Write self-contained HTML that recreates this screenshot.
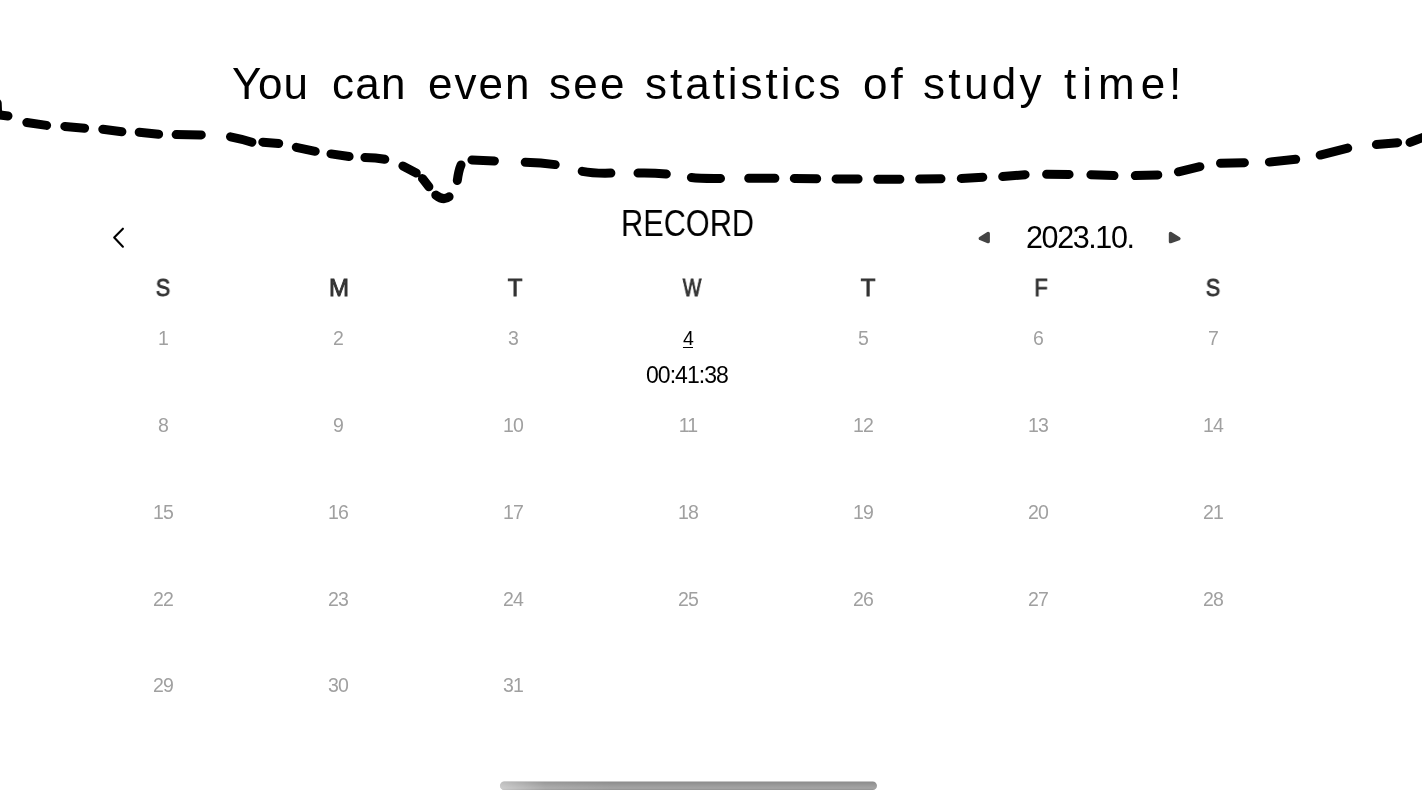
<!DOCTYPE html>
<html>
<head>
<meta charset="utf-8">
<title>Record</title>
<style>
html,body{margin:0;padding:0;background:#fff;}
body{width:1422px;height:800px;overflow:hidden;position:relative;font-family:"Liberation Sans",sans-serif;color:#000;}
.a{position:absolute;white-space:nowrap;line-height:1;will-change:transform;}
.tw{font-size:44px;top:61.5px;}
#record{left:621px;top:205px;font-size:37px;transform:scaleX(0.83);transform-origin:0 0;letter-spacing:0px;}
#month{left:1026px;top:221.5px;font-size:30.5px;letter-spacing:-1.4px;}
.hd{font-size:24px;font-weight:normal;-webkit-text-stroke:0.9px #333;color:#333;top:276px;width:60px;text-align:center;}
.n{font-size:19.5px;color:#a0a0a0;width:60px;text-align:center;letter-spacing:-0.8px;}
.u{text-decoration:underline;text-decoration-thickness:1px;text-underline-offset:2px;color:#000;}
#time{left:646px;top:364px;font-size:23px;letter-spacing:-0.95px;}
svg{position:absolute;left:0;top:0;}
</style>
</head>
<body>

<svg width="1422" height="800" viewBox="0 0 1422 800">
<path d="M -2.8,103 L -2.5,110.5 Q -2.3,114.6 2,115.2 L 8,116 M 26.8,122.5 L 46.6,125.4 M 64.8,126.4 L 84.6,128.2 M 102.8,129.2 L 121.9,131.7 M 139.2,132.3 L 158.6,134.2 M 176.1,134.6 L 201.3,134.9 M 230.5,136.8 Q 241,138.8 251.9,142.2 M 262.8,142.2 L 278.7,143.5 M 296.3,147.3 L 315.2,151.3 M 331,153.9 L 349.1,156.5 M 364.9,157.5 Q 376,157.6 384.8,159.2 M 402.9,166 L 416.2,172.9 M 422.5,178.6 L 428.9,186.8 M 435.8,195.1 Q 443.5,201.1 449.1,196.7 M 457.3,180.5 Q 458.6,170.5 461,164.9 M 471.9,160 L 494.4,160.9 M 525.2,162.3 Q 541,162.6 555.2,164.6 M 582.2,171.3 Q 594,173.6 610.9,173.1 M 638,173 Q 652,172.6 666.3,174 M 691.4,177.5 Q 700,178.6 720.5,178.4 M 748.7,178.3 L 774.9,178.3 M 794.3,178.4 L 816.7,178.7 M 836.1,178.9 L 858.1,179 M 877.8,179.2 L 899.9,179.2 M 919.6,179 L 941,178.8 M 961.3,178.5 L 982.8,177.2 M 1002.7,176.6 L 1025.1,174.7 M 1046.6,174.3 L 1069.1,174.4 M 1090.9,174.7 L 1114,175.6 M 1135.3,175.6 L 1157.8,174.9 M 1178.4,171.8 L 1199.9,166.7 M 1220.5,163.2 L 1244.4,162.7 M 1269.4,162.1 L 1295.7,159.3 M 1320.2,155.1 L 1347.7,148.1 M 1376.4,144.6 L 1397.6,142.7 M 1410,142.4 Q 1414.5,140.6 1418,139.2 L 1432,134.5" fill="none" stroke="#000" stroke-width="9" stroke-linecap="round" stroke-linejoin="round"/>
<polyline points="122.9,228.7 114.2,237.6 122.9,246.7" fill="none" stroke="#000" stroke-width="2.1" stroke-linecap="round" stroke-linejoin="round"/>
<path d="M988.2,233.4 L980.3,238.5 L988.2,241.6 Z" fill="#444" stroke="#444" stroke-width="3.4" stroke-linejoin="round"/>
<path d="M1170.5,233.4 L1178.9,238.6 L1170.5,241.6 Z" fill="#444" stroke="#444" stroke-width="3.4" stroke-linejoin="round"/>
<defs><linearGradient id="gv" x1="0" y1="0" x2="0" y2="1"><stop offset="0" stop-color="#8b8b8b"/><stop offset="0.35" stop-color="#979797"/><stop offset="0.78" stop-color="#a5a5a5"/><stop offset="1" stop-color="#929292"/></linearGradient><linearGradient id="gh" x1="0" y1="0" x2="1" y2="0"><stop offset="0" stop-color="#fff" stop-opacity="0.45"/><stop offset="0.12" stop-color="#fff" stop-opacity="0.1"/><stop offset="0.3" stop-color="#fff" stop-opacity="0"/><stop offset="1" stop-color="#fff" stop-opacity="0"/></linearGradient></defs>
<rect x="500" y="781.5" width="377" height="8.6" rx="4.3" fill="url(#gv)"/>
<rect x="500" y="781.5" width="377" height="8.6" rx="4.3" fill="url(#gh)"/>
</svg>
<div class="a tw" style="left:232px;letter-spacing:0.8px">You</div>
<div class="a tw" style="left:331.5px;letter-spacing:1.3px">can</div>
<div class="a tw" style="left:427.5px;letter-spacing:2px">even</div>
<div class="a tw" style="left:549px;letter-spacing:2.3px">see</div>
<div class="a tw" style="left:644.5px;letter-spacing:2.97px">statistics</div>
<div class="a tw" style="left:863px;letter-spacing:3px">of</div>
<div class="a tw" style="left:923px;letter-spacing:3.35px">study</div>
<div class="a tw" style="left:1063.5px;letter-spacing:6px">time</div>
<div class="a tw" style="left:1169px;letter-spacing:0px">!</div>
<div class="a" id="record">RECORD</div>
<div class="a" id="month">2023.10.</div>
<div class="a hd" style="left:133px;transform:scaleX(0.9)">S</div>
<div class="a hd" style="left:308.9px">M</div>
<div class="a hd" style="left:485px">T</div>
<div class="a hd" style="left:661.8px;transform:scaleX(0.82)">W</div>
<div class="a hd" style="left:838px">T</div>
<div class="a hd" style="left:1010.8px;transform:scaleX(0.9)">F</div>
<div class="a hd" style="left:1183.1px;transform:scaleX(0.9)">S</div>
<div class="a n" style="left:133.0px;top:329.1px">1</div>
<div class="a n" style="left:308.0px;top:329.1px">2</div>
<div class="a n" style="left:483.0px;top:329.1px">3</div>
<div class="a n" style="left:658.0px;top:329.1px"><span class="u">4</span></div>
<div class="a n" style="left:833.0px;top:329.1px">5</div>
<div class="a n" style="left:1008.0px;top:329.1px">6</div>
<div class="a n" style="left:1183.0px;top:329.1px">7</div>
<div class="a n" style="left:133.0px;top:415.9px">8</div>
<div class="a n" style="left:308.0px;top:415.9px">9</div>
<div class="a n" style="left:483.0px;top:415.9px">10</div>
<div class="a n" style="left:658.0px;top:415.9px">11</div>
<div class="a n" style="left:833.0px;top:415.9px">12</div>
<div class="a n" style="left:1008.0px;top:415.9px">13</div>
<div class="a n" style="left:1183.0px;top:415.9px">14</div>
<div class="a n" style="left:133.0px;top:502.8px">15</div>
<div class="a n" style="left:308.0px;top:502.8px">16</div>
<div class="a n" style="left:483.0px;top:502.8px">17</div>
<div class="a n" style="left:658.0px;top:502.8px">18</div>
<div class="a n" style="left:833.0px;top:502.8px">19</div>
<div class="a n" style="left:1008.0px;top:502.8px">20</div>
<div class="a n" style="left:1183.0px;top:502.8px">21</div>
<div class="a n" style="left:133.0px;top:589.5px">22</div>
<div class="a n" style="left:308.0px;top:589.5px">23</div>
<div class="a n" style="left:483.0px;top:589.5px">24</div>
<div class="a n" style="left:658.0px;top:589.5px">25</div>
<div class="a n" style="left:833.0px;top:589.5px">26</div>
<div class="a n" style="left:1008.0px;top:589.5px">27</div>
<div class="a n" style="left:1183.0px;top:589.5px">28</div>
<div class="a n" style="left:133.0px;top:676.4px">29</div>
<div class="a n" style="left:308.0px;top:676.4px">30</div>
<div class="a n" style="left:483.0px;top:676.4px">31</div>
<div class="a" id="time">00:41:38</div>
</body>
</html>
